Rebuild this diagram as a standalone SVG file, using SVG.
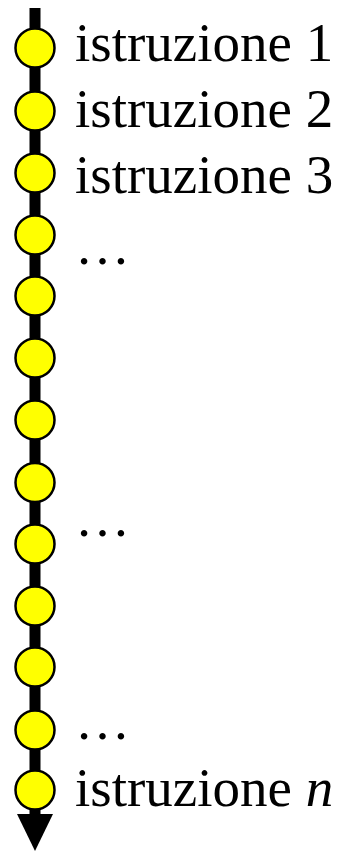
<svg xmlns="http://www.w3.org/2000/svg" width="345" height="852" viewBox="0 0 345 852">
<style>
.n{fill:#ffff00;stroke:#000;stroke-width:2.5}
.t{font-family:"Liberation Serif","Times New Roman",serif;font-size:55px;fill:#000}
</style>
<rect width="345" height="852" fill="#fff"/>
<g id="connectors">
<line x1="35" y1="8" x2="35" y2="816" stroke="#000" stroke-width="11"/>
<polygon points="17,814 53,814 35,851" fill="#000"/>
</g>
<g id="n1"><circle class="n" cx="35" cy="48" r="19.5"/><text class="t" x="75" y="60.5">istruzione 1</text></g>
<g id="n2"><circle class="n" cx="35" cy="111" r="19.5"/><text class="t" x="75" y="127">istruzione 2</text></g>
<g id="n3"><circle class="n" cx="35" cy="173" r="19.5"/><text class="t" x="75" y="192.5">istruzione 3</text></g>
<g id="n4"><circle class="n" cx="35" cy="235" r="19.5"/><text class="t" x="75" y="264">…</text></g>
<g id="n5"><circle class="n" cx="35" cy="296" r="19.5"/></g>
<g id="n6"><circle class="n" cx="35" cy="358" r="19.5"/></g>
<g id="n7"><circle class="n" cx="35" cy="420" r="19.5"/></g>
<g id="n8"><circle class="n" cx="35" cy="482.5" r="19.5"/></g>
<g id="n9"><circle class="n" cx="35" cy="544" r="19.5"/><text class="t" x="75" y="536">…</text></g>
<g id="n10"><circle class="n" cx="35" cy="606" r="19.5"/></g>
<g id="n11"><circle class="n" cx="35" cy="667" r="19.5"/></g>
<g id="n12"><circle class="n" cx="35" cy="730" r="19.5"/><text class="t" x="75" y="739">…</text></g>
<g id="n13"><circle class="n" cx="35" cy="790" r="19.5"/><text class="t" x="75" y="806">istruzione <tspan font-style="italic">n</tspan></text></g>
</svg>
